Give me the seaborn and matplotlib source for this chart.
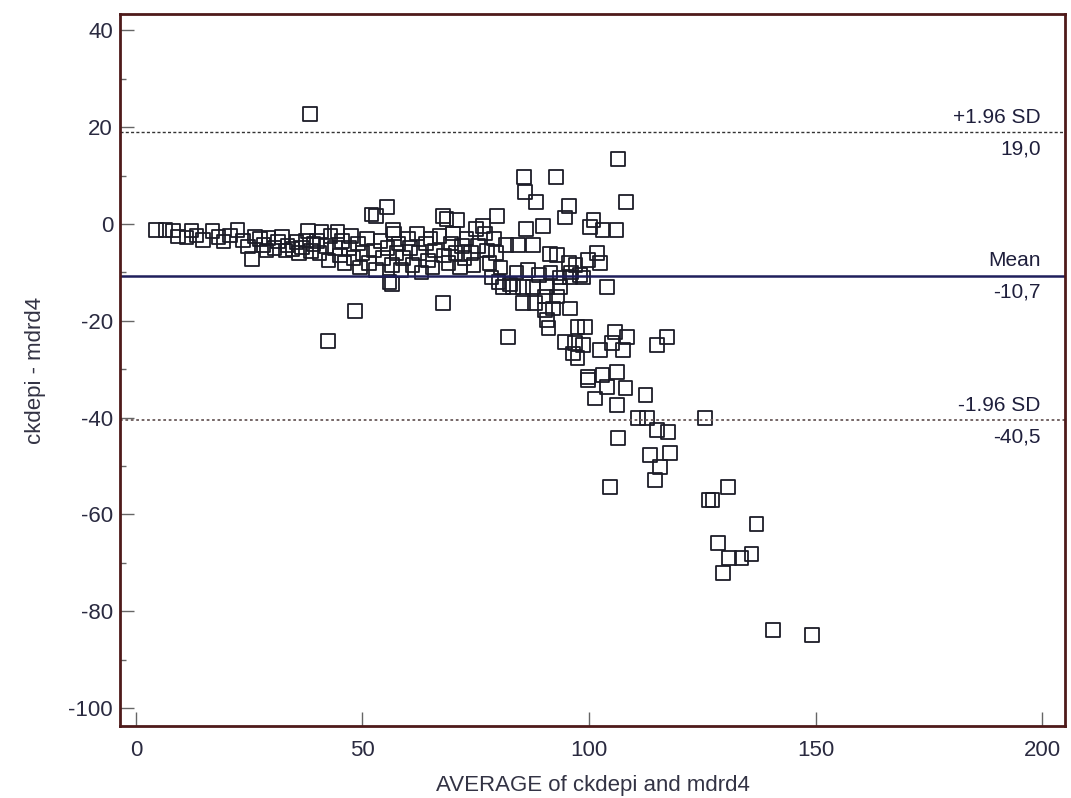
import numpy as np
import matplotlib
matplotlib.use("Agg")
import matplotlib.pyplot as plt
import seaborn as sns
from matplotlib.ticker import MultipleLocator

# Bland-Altman data: average of both methods vs difference (ckdepi - mdrd4)
avg = [
    4.5, 6.5, 8.2, 9.3, 11.2, 12.3, 13.4, 14.8, 16.9, 18.2, 19.3, 20.8, 22.4, 23.6,
    24.8, 25.6, 26.3, 27.4, 28.2, 28.8, 29.3, 30.6, 31.4, 32.3, 33.0, 33.5, 34.6,
    35.4, 36.0, 36.7, 37.6, 38.0, 38.6, 39.2, 38.4,
    40.0, 40.5, 41.0, 42.0, 42.5, 43.0, 44.0, 44.5, 45.0, 45.5, 46.0, 47.0, 47.5,
    48.0, 49.0, 49.5, 50.0, 51.0, 51.5, 52.0, 52.5, 53.0, 53.0, 54.0, 54.5, 55.4,
    55.5, 56.0, 56.5, 56.7, 57.0, 57.5, 58.0, 58.5, 59.0, 60.0, 42.4, 48.3, 56.5,
    60.5, 61.0, 62.0, 62.5, 63.0, 64.0, 64.5, 65.0, 65.5, 66.0, 67.0, 67.8, 68.0,
    68.5, 69.0, 69.5, 70.0, 70.5, 70.9, 71.5, 72.0, 72.5, 73.0, 74.0, 74.5, 75.0,
    75.5, 76.6, 77.0, 77.5, 78.0, 78.5, 79.0, 79.5, 79.7, 80.5, 67.8,
    81.7, 84.3, 87.6, 91.4, 92.9, 95.6, 101.8, 102.4, 99.8, 104.0, 84.0, 86.5,
    89.0, 91.5, 93.5, 96.0, 98.0, 80.0, 82.5, 95.8, 98.7, 81.0, 83.2, 85.4, 87.6,
    90.7, 93.6, 85.4, 88.1, 90.3, 92.9, 90.3, 92.0, 95.8, 90.7, 91.0, 97.4, 99.1,
    94.7, 96.9, 98.7, 96.5, 97.4, 102.4, 105.7, 105.1, 107.5, 99.8, 103.0, 106.2,
    82.1, 85.6, 92.7, 85.9, 88.3, 106.4, 95.6, 94.7, 108.2, 86.1, 89.8, 101.0,
    100.2, 103.0, 106.0, 97.0,
    108.4, 117.2, 115.0, 99.8, 104.0, 101.3, 106.2, 108.0, 112.4, 110.8, 112.8,
    115.0, 117.4, 125.6, 106.4, 113.5, 117.9, 115.7, 114.6, 104.6, 126.3,
    130.7, 127.2, 136.9, 128.5, 130.9, 133.6, 135.8, 129.6, 140.6, 149.2,
]
diff = [
    -1.2, -1.2, -1.3, -2.6, -2.8, -1.3, -2.4, -3.3, -1.4, -2.7, -3.6, -2.4, -1.2, -3.4,
    -4.6, -7.2, -2.6, -3.1, -4.3, -5.5, -2.9, -4.9, -3.6, -2.7, -5.5, -4.4, -5.1,
    -3.7, -6.0, -4.8, -3.4, -1.4, -5.6, -4.1, 22.7,
    -3.5, -6.0, -1.5, -4.5, -7.5, -2.5, -5.0, -1.5, -6.5, -3.5, -8.0, -5.0, -2.5,
    -7.0, -4.0, -9.0, -6.0, -3.0, -8.0, 2.0, -5.5, -9.5, 1.7, -3.5, -7.0, 3.5,
    -5.0, -12.0, -8.5, -1.2, -2.0, -6.0, -4.0, -9.5, -7.0, -3.0, -24.2, -18.0, -12.4,
    -5.0, -8.5, -2.0, -6.0, -10.0, -4.0, -7.5, -3.0, -9.0, -5.5, -2.5, 1.7, -6.5,
    1.0, -8.0, -4.0, -2.0, -6.0, 0.8, -9.0, -4.5, -7.0, -3.0, -6.0, -8.5, -1.0,
    -4.5, -0.4, -2.0, -5.5, -8.0, -11.0, -3.0, -6.0, 1.7, -9.0, -16.3,
    -4.3, -4.3, -4.3, -6.2, -6.4, -8.1, -6.0, -8.1, -7.4, -13.0, -10.0, -9.5,
    -10.5, -10.0, -11.0, -10.0, -10.5, -12.0, -12.5, -11.0, -11.0, -13.0, -13.0, -13.0, -13.0,
    -13.0, -13.0, -16.3, -16.3, -15.0, -15.0, -17.8, -17.4, -17.4, -19.8, -21.5, -21.3, -21.3,
    -24.4, -24.6, -25.0, -26.7, -27.7, -26.0, -22.3, -24.6, -26.0, -31.6, -31.2, -30.6,
    -23.3, 9.7, 9.7, 6.6, 4.5, 13.4, 3.7, 1.4, 4.5, -1.0, -0.4, 0.8,
    -0.6, -1.2, -1.2, -8.5,
    -23.3, -23.3, -25.0, -32.2, -33.7, -36.0, -37.4, -33.9, -35.3, -40.1, -40.1,
    -42.6, -43.0, -40.1, -44.2, -47.7, -47.3, -50.2, -52.9, -54.3, -57.0,
    -54.3, -57.0, -62.0, -65.9, -69.0, -69.0, -68.2, -72.1, -83.9, -84.9,
]

mean_diff = -10.7
upper_loa = 19.0
lower_loa = -40.5

sns.set_style("white")
plt.rcParams["font.family"] = ["Liberation Sans Narrow", "Liberation Sans", "DejaVu Sans"]
plt.rcParams["axes.unicode_minus"] = False

fig = plt.figure(figsize=(10.71, 7.98), dpi=100)
ax = fig.add_axes([0.112, 0.0902, 0.8824, 0.8923])

sns.scatterplot(x=avg, y=diff, marker="s", s=95, linewidth=1.3,
                edgecolor="#1c1c28", ax=ax, legend=False)
ax.collections[0].set_facecolor("none")

ax.axhline(mean_diff, color="#1f1f5c", lw=1.8, zorder=1)
ax.axhline(upper_loa, color="#333333", lw=1.0, ls=(0, (2.2, 1.6)), zorder=1)
ax.axhline(lower_loa, color="#6a5a5a", lw=1.3, ls=(0, (1.5, 1.5)), zorder=1)

lbl = dict(color="#1f1f3c", fontsize=15, ha="right")
xt = 199.6
for yv, top, bot in [(upper_loa, "+1.96 SD", "19,0"),
                     (mean_diff, "Mean", "-10,7"),
                     (lower_loa, "-1.96 SD", "-40,5")]:
    ax.annotate(top, (xt, yv), xytext=(0, 4), textcoords="offset points",
                va="bottom", **lbl)
    ax.annotate(bot, (xt, yv), xytext=(0, -5), textcoords="offset points",
                va="top", **lbl)

ax.set_xlim(-3.5, 205)
ax.set_ylim(-103.7, 43.4)
ax.xaxis.set_major_locator(MultipleLocator(50))
ax.yaxis.set_major_locator(MultipleLocator(20))
ax.yaxis.set_minor_locator(MultipleLocator(10))

ax.tick_params(bottom=True, left=True, which="both")
ax.tick_params(axis="both", which="major", direction="in", length=10, width=1,
               color="#666666", labelsize=16, labelcolor="#2a2a40")
ax.tick_params(axis="y", which="minor", direction="in", length=4, width=1,
               color="#666666")
ax.tick_params(axis="x", pad=10)
ax.tick_params(axis="y", pad=5)

for sp in ax.spines.values():
    sp.set_color("#4e1a1a")
    sp.set_linewidth(2)

ax.set_xlabel("AVERAGE of ckdepi and mdrd4", fontsize=16, color="#333344", labelpad=10)
ax.set_ylabel("ckdepi - mdrd4", fontsize=16, color="#333344", labelpad=16)

fig.savefig("out.png", dpi=100, facecolor="white")
